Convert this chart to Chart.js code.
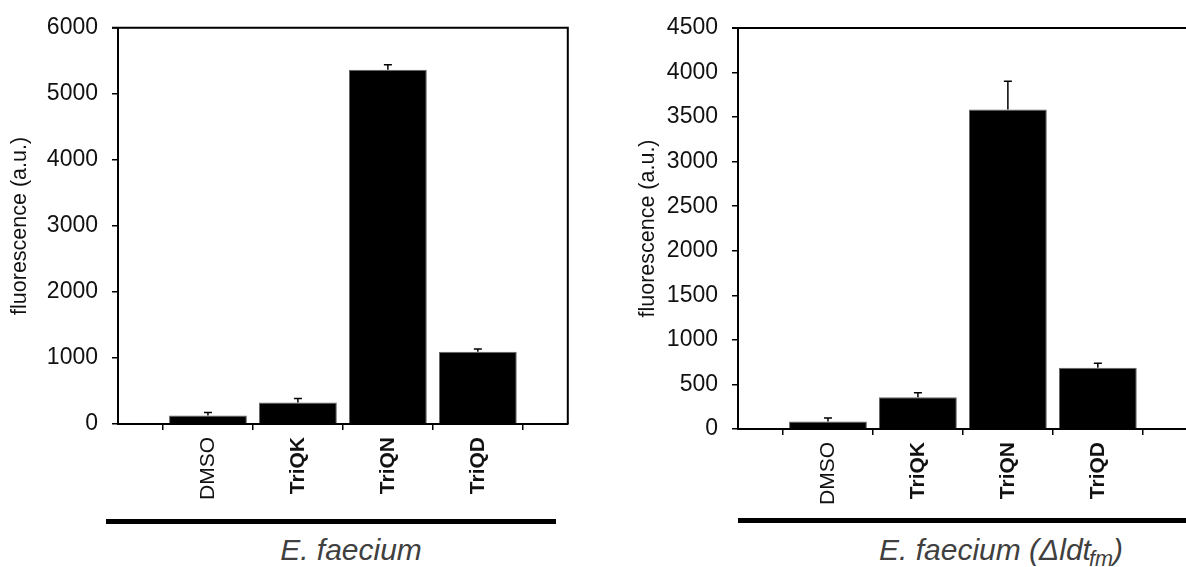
<!DOCTYPE html>
<html>
<head>
<meta charset="utf-8">
<script src="https://cdn.jsdelivr.net/npm/chart.js@4"></script>
<style>
  html, body { margin: 0; padding: 0; background: #fff; }
  body { width: 1186px; height: 567px; overflow: hidden; position: relative; font-family: 'Liberation Sans', Arial, sans-serif; }
  .panel { position: absolute; top: 0; }
  .bar-line { position: absolute; height: 5px; background: #000; }
  .caption { position: absolute; font-style: italic; font-size: 30px; line-height: 30px; color: #404040; text-align: center; white-space: nowrap; }
  .caption sub { font-size: 0.72em; vertical-align: -0.28em; margin-left: -2px; }
</style>
</head>
<body>
<div class="panel" style="left:0"><canvas id="chartWild" width="600" height="510"></canvas></div>
<div class="panel" style="left:600px"><canvas id="chartMutant" width="620" height="515"></canvas></div>

<div class="bar-line" style="left:106px; top:519px; width:450px"></div>
<div class="caption" style="left:201px; top:535px; width:300px">E. faecium</div>

<div class="bar-line" style="left:738px; top:518px; width:460px"></div>
<div class="caption" style="left:841px; top:535px; width:320px">E. faecium (Δldt<sub>fm</sub>)</div>

<script>
// empty slots at both ends keep the bars off the axes
const categories = ['', 'DMSO', 'TriQK', 'TriQN', 'TriQD', ''];

const wildValues = [null, 130, 325, 5365, 1095, null];
const wildErrors = [null, 45, 60, 75, 40, null];
const wildMax = 6000;
const wildStep = 1000;

const mutantValues = [null, 85, 356, 3585, 688, null];
const mutantErrors = [null, 38, 52, 317, 50, null];
const mutantMax = 4500;
const mutantStep = 500;

const yTitle = 'fluorescence (a.u.)';

// error whiskers above each bar
const errorBars = {
    id: 'errorBars',
    afterDatasetsDraw(chart, args, opts) {
        const ctx = chart.ctx;
        const y = chart.scales.y;
        const values = chart.data.datasets[0].data;
        const meta = chart.getDatasetMeta(0);
        ctx.save();
        ctx.strokeStyle = '#000';
        ctx.lineWidth = 1.5;
        meta.data.forEach((bar, i) => {
            if (values[i] == null) return;
            const top = y.getPixelForValue(values[i] + opts.errors[i]);
            ctx.beginPath();
            ctx.moveTo(bar.x, bar.y);
            ctx.lineTo(bar.x, top);
            ctx.moveTo(bar.x - 4, top);
            ctx.lineTo(bar.x + 4, top);
            ctx.stroke();
        });
        ctx.restore();
    }
};

// top and right sides of the plot box
const frame = {
    id: 'frame',
    afterDraw(chart) {
        const ctx = chart.ctx;
        const a = chart.chartArea;
        ctx.save();
        ctx.strokeStyle = '#000';
        ctx.lineWidth = 2;
        ctx.beginPath();
        ctx.moveTo(a.left - 6, a.top);
        ctx.lineTo(a.right, a.top);
        ctx.lineTo(a.right, a.bottom);
        ctx.stroke();
        ctx.restore();
    }
};

function makeChart(id, values, errors, max, step, axisWidth, titlePad, padTop, padRight) {
    let context = document.querySelector('#' + id).getContext('2d');
    return new Chart(context, {
        type: 'bar',
        data: {
            labels: categories,
            datasets: [{
                data: values,
                backgroundColor: '#000',
                borderColor: '#666',
                borderWidth: 1,
                categoryPercentage: 1,
                barPercentage: 0.865
            }]
        },
        options: {
            responsive: false,
            animation: false,
            devicePixelRatio: 1,
            layout: { padding: { top: padTop, right: padRight, bottom: 0, left: 0 } },
            plugins: {
                legend: { display: false },
                tooltip: { enabled: false },
                errorBars: { errors: errors }
            },
            scales: {
                x: {
                    offset: false,
                    afterFit: s => { s.height = 86; },
                    border: { display: true, color: '#000', width: 2 },
                    grid: { drawOnChartArea: false, drawTicks: true, tickLength: 6, color: '#000', lineWidth: 1.5 },
                    ticks: {
                        autoSkip: false,
                        minRotation: 90,
                        maxRotation: 90,
                        padding: 7,
                        color: '#111',
                        font: c => ({
                            family: "'Liberation Sans', Arial, sans-serif",
                            size: 21,
                            weight: c.tick && c.tick.label === 'DMSO' ? 'normal' : 'bold'
                        })
                    }
                },
                y: {
                    min: 0,
                    max: max,
                    afterFit: s => { s.width = axisWidth; },
                    border: { display: true, color: '#000', width: 2 },
                    grid: { drawOnChartArea: false, drawTicks: true, tickLength: 6, color: '#000', lineWidth: 1.5 },
                    ticks: {
                        stepSize: step,
                        padding: 14,
                        color: '#111',
                        font: { family: "'Liberation Sans', Arial, sans-serif", size: 23 },
                        callback: v => String(v)
                    },
                    title: {
                        display: true,
                        text: yTitle,
                        color: '#111',
                        padding: { top: titlePad, bottom: 0 },
                        font: { family: "'Liberation Sans', Arial, sans-serif", size: 21.5 }
                    }
                }
            }
        },
        plugins: [errorBars, frame]
    });
}

let chartWild = makeChart('chartWild', wildValues, wildErrors, wildMax, wildStep, 118, 7, 23, 24);
let chartMutant = makeChart('chartMutant', mutantValues, mutantErrors, mutantMax, mutantStep, 138, 35, 28, 20);
</script>
</body>
</html>
